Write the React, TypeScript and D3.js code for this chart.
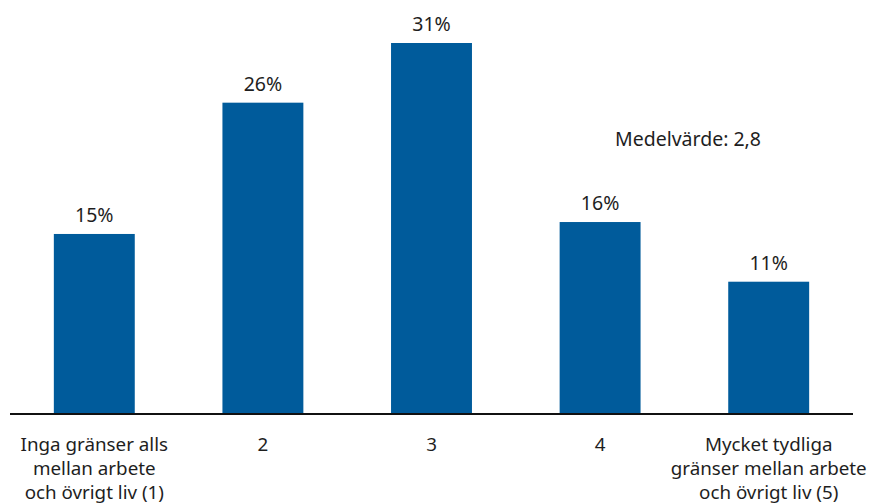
import React from "react";
import * as d3 from "d3";

const categories = ["1", "2", "3", "4", "5"];
const categoryLabels: string[][] = [
  ["Inga gränser alls", "mellan arbete", "och övrigt liv (1)"],
  ["2"],
  ["3"],
  ["4"],
  ["Mycket tydliga", "gränser mellan arbete", "och övrigt liv (5)"],
];
const values = [15, 26, 31, 16, 11];
const meanLabel = "Medelvärde: 2,8";

const W = 869;
const H = 504;
const FONT = "'Noto Sans', 'Open Sans', sans-serif";
const BLUE = "#005b9b";
const TEXT = "#1e1e1e";

export default function App() {
  const x = d3
    .scaleBand<string>()
    .domain(categories)
    .range([10, 853])
    .paddingInner(0.52)
    .paddingOuter(0.26);
  const y = d3.scaleLinear().domain([0, 31]).range([413, 43]);

  return (
    <svg
      width={W}
      height={H}
      style={{ position: "absolute", left: 0, top: 0, background: "#fff" }}
      fontFamily={FONT}
    >
      {values.map((v, i) => {
        const c = categories[i];
        const x0 = x(c)!;
        return (
          <g key={c}>
            <rect x={x0} y={y(v)} width={x.bandwidth()} height={y(0) - y(v)} fill={BLUE} />
            <text
              x={x0 + x.bandwidth() / 2}
              y={y(v) - 12}
              textAnchor="middle"
              fontSize={19.5}
              fill={TEXT}
            >
              {v}%
            </text>
          </g>
        );
      })}
      <line x1={10} x2={853} y1={414} y2={414} stroke="#111" strokeWidth={2} />
      {categoryLabels.map((lines, i) => (
        <text
          key={i}
          x={x(categories[i])! + x.bandwidth() / 2}
          y={451}
          textAnchor="middle"
          fontSize={18.8}
          fill={TEXT}
        >
          {lines.map((l, j) => (
            <tspan key={j} x={x(categories[i])! + x.bandwidth() / 2} dy={j === 0 ? 0 : 24}>
              {l}
            </tspan>
          ))}
        </text>
      ))}
      <text x={688} y={146} textAnchor="middle" fontSize={19.5} fill={TEXT}>
        {meanLabel}
      </text>
    </svg>
  );
}
